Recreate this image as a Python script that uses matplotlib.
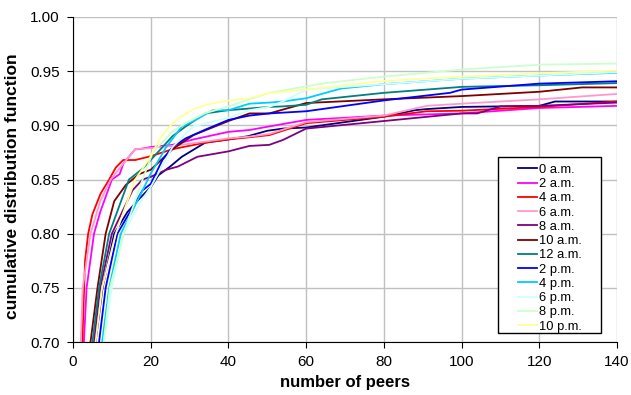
import matplotlib
matplotlib.use("Agg")
import matplotlib.pyplot as plt
from matplotlib.patches import Rectangle

plt.rcParams['font.family'] = ['Liberation Sans', 'DejaVu Sans']

labels = ["0 a.m.", "2 a.m.", "4 a.m.", "6 a.m.", "8 a.m.", "10 a.m.",
          "12 a.m.", "2 p.m.", "4 p.m.", "6 p.m.", "8 p.m.", "10 p.m."]
colors = ["#000080", "#FF00FF", "#FF0000", "#FF99CC", "#800080", "#800000",
          "#008080", "#0000FF", "#00CCFF", "#CCFFFF", "#CCFFCC", "#FFFF99"]

x_0am = [5.8, 7.6, 10.6, 14, 17, 20, 22, 25, 28, 34, 40, 45, 50, 54, 60, 70, 80, 88, 91, 100, 120, 124, 140]
y_0am = [0.70, 0.75, 0.80, 0.82, 0.832, 0.843, 0.854, 0.862, 0.871, 0.884, 0.887, 0.890, 0.895, 0.897, 0.898, 0.903, 0.908, 0.914, 0.915, 0.917, 0.918, 0.922, 0.922]

x_2am = [2.8, 3.5, 5.4, 7, 10, 12, 13, 16, 17, 20, 25.6, 31, 40, 45.4, 50.5, 60, 80, 100, 120, 140]
y_2am = [0.70, 0.75, 0.80, 0.82, 0.85, 0.855, 0.865, 0.878, 0.878, 0.88, 0.882, 0.887, 0.894, 0.8957, 0.899, 0.905, 0.909, 0.911, 0.916, 0.918]

x_4am = [2.4, 3.1, 3.9, 5, 7.1, 9.3, 11, 12.9, 16, 20, 25.6, 34, 40, 45.4, 50.5, 60, 80, 91, 100, 120, 140]
y_4am = [0.70, 0.775, 0.80, 0.818, 0.837, 0.85, 0.861, 0.868, 0.868, 0.8715, 0.878, 0.884, 0.887, 0.889, 0.891, 0.902, 0.908, 0.913, 0.9135, 0.917, 0.922]

x_6am = [2, 2.5, 4.5, 7, 9.7, 13, 16, 20, 25.6, 34, 40, 45.4, 50.5, 60, 80, 91, 100, 120, 140]
y_6am = [0.70, 0.75, 0.80, 0.83, 0.85, 0.865, 0.878, 0.879, 0.881, 0.885, 0.888, 0.8896, 0.892, 0.903, 0.909, 0.918, 0.920, 0.924, 0.929]

x_8am = [5.4, 7, 10, 15.3, 17.9, 20, 24, 27, 32, 40, 45.4, 50.5, 54, 60, 80, 100, 104, 110, 120, 140]
y_8am = [0.70, 0.75, 0.80, 0.84, 0.85, 0.8525, 0.859, 0.862, 0.871, 0.876, 0.881, 0.882, 0.8865, 0.897, 0.904, 0.911, 0.911, 0.9175, 0.918, 0.921]

x_10am = [4.5, 6.3, 8.4, 10.6, 13.6, 17, 20, 25.6, 31, 40, 45.4, 50.5, 60, 80, 100, 120, 131, 140]
y_10am = [0.70, 0.75, 0.80, 0.83, 0.845, 0.855, 0.859, 0.878, 0.891, 0.904, 0.911, 0.911, 0.9206, 0.924, 0.927, 0.931, 0.935, 0.935]

x_12am = [5, 6.7, 9.3, 14.4, 17.9, 20, 25.6, 29, 34, 40, 50.5, 54, 60, 64, 80, 100, 120, 140]
y_12am = [0.70, 0.75, 0.80, 0.85, 0.86, 0.868, 0.89, 0.899, 0.911, 0.914, 0.917, 0.9175, 0.919, 0.924, 0.930, 0.9355, 0.937, 0.939]

x_2pm = [6.7, 8.4, 11.4, 17.9, 20, 23, 25.6, 29, 34, 40, 45.4, 50.5, 60, 80, 97, 100, 120, 140]
y_2pm = [0.70, 0.75, 0.80, 0.84, 0.846, 0.868, 0.88, 0.888, 0.896, 0.905, 0.909, 0.911, 0.913, 0.923, 0.930, 0.933, 0.9385, 0.9407]

x_4pm = [7.5, 9.3, 12.3, 17.9, 20, 24, 28, 31, 36, 40, 45.4, 50.5, 54, 60, 69, 80, 100, 120, 140]
y_4pm = [0.70, 0.75, 0.80, 0.84, 0.8555, 0.88, 0.899, 0.904, 0.914, 0.914, 0.920, 0.921, 0.922, 0.925, 0.934, 0.938, 0.943, 0.946, 0.9485]

x_6pm = [8, 10, 13, 17.5, 20, 25.6, 31, 40, 45.4, 50.5, 54, 60, 80, 100, 120, 140]
y_6pm = [0.70, 0.75, 0.80, 0.83, 0.843, 0.88, 0.899, 0.907, 0.914, 0.917, 0.922, 0.933, 0.938, 0.943, 0.946, 0.949]

x_8pm = [7.9, 9.5, 13, 17.9, 20.5, 25.6, 29, 34, 40, 45.4, 50.5, 60, 65, 80, 100, 120, 140]
y_8pm = [0.70, 0.75, 0.80, 0.85, 0.875, 0.8945, 0.902, 0.9113, 0.9175, 0.924, 0.93, 0.936, 0.939, 0.945, 0.9515, 0.956, 0.957]

x_10pm = [5.8, 7.5, 11, 16, 17.9, 20, 22.2, 25.6, 27.3, 30.7, 34.2, 40, 45.4, 50.5, 60, 80, 100, 120, 140]
y_10pm = [0.70, 0.75, 0.80, 0.85, 0.86, 0.8715, 0.887, 0.902, 0.9067, 0.9144, 0.919, 0.923, 0.925, 0.93, 0.933, 0.941, 0.945, 0.948, 0.9506]

xs = [x_0am, x_2am, x_4am, x_6am, x_8am, x_10am, x_12am, x_2pm, x_4pm, x_6pm, x_8pm, x_10pm]
ys = [y_0am, y_2am, y_4am, y_6am, y_8am, y_10am, y_12am, y_2pm, y_4pm, y_6pm, y_8pm, y_10pm]

fig = plt.figure(figsize=(6.31, 3.95), dpi=100)
ax = fig.add_axes([0.1157, 0.134, 0.978 - 0.1157, 0.957 - 0.134])

for x, y, c, l in zip(xs, ys, colors, labels):
    ax.plot(x, y, color=c, lw=1.3, label=l)

ax.set_xlim(0, 140)
ax.set_ylim(0.70, 1.00)
ax.set_xticks(range(0, 141, 20))
ax.set_yticks([0.70, 0.75, 0.80, 0.85, 0.90, 0.95, 1.00])
ax.set_yticklabels(["0.70", "0.75", "0.80", "0.85", "0.90", "0.95", "1.00"])
ax.grid(True, color="#C0C0C0", lw=1.0)
ax.set_axisbelow(True)
for s in ["top", "right"]:
    ax.spines[s].set_visible(False)
ax.spines["left"].set_color("black")
ax.spines["bottom"].set_color("black")
ax.tick_params(labelsize=11, direction="out", length=4.5, pad=5)

ax.set_xlabel("number of peers", fontsize=12, fontweight="bold", labelpad=4)
ax.set_ylabel("cumulative distribution function", fontsize=12.5, fontweight="bold")
ax.yaxis.set_label_coords(-0.097, 0.48)

# legend box
box = Rectangle((0.781, 0.028), 0.19, 0.541, transform=ax.transAxes,
                facecolor="white", edgecolor="black", lw=1.0, zorder=5)
ax.add_patch(box)
leg = ax.legend(loc="upper left", bbox_to_anchor=(0.818, 0.548), borderaxespad=0,
                fontsize=9.3, frameon=False, handlelength=1.45,
                handletextpad=0.2, labelspacing=0.17, borderpad=0)
leg.set_zorder(6)

fig.savefig("out.png", dpi=100)
